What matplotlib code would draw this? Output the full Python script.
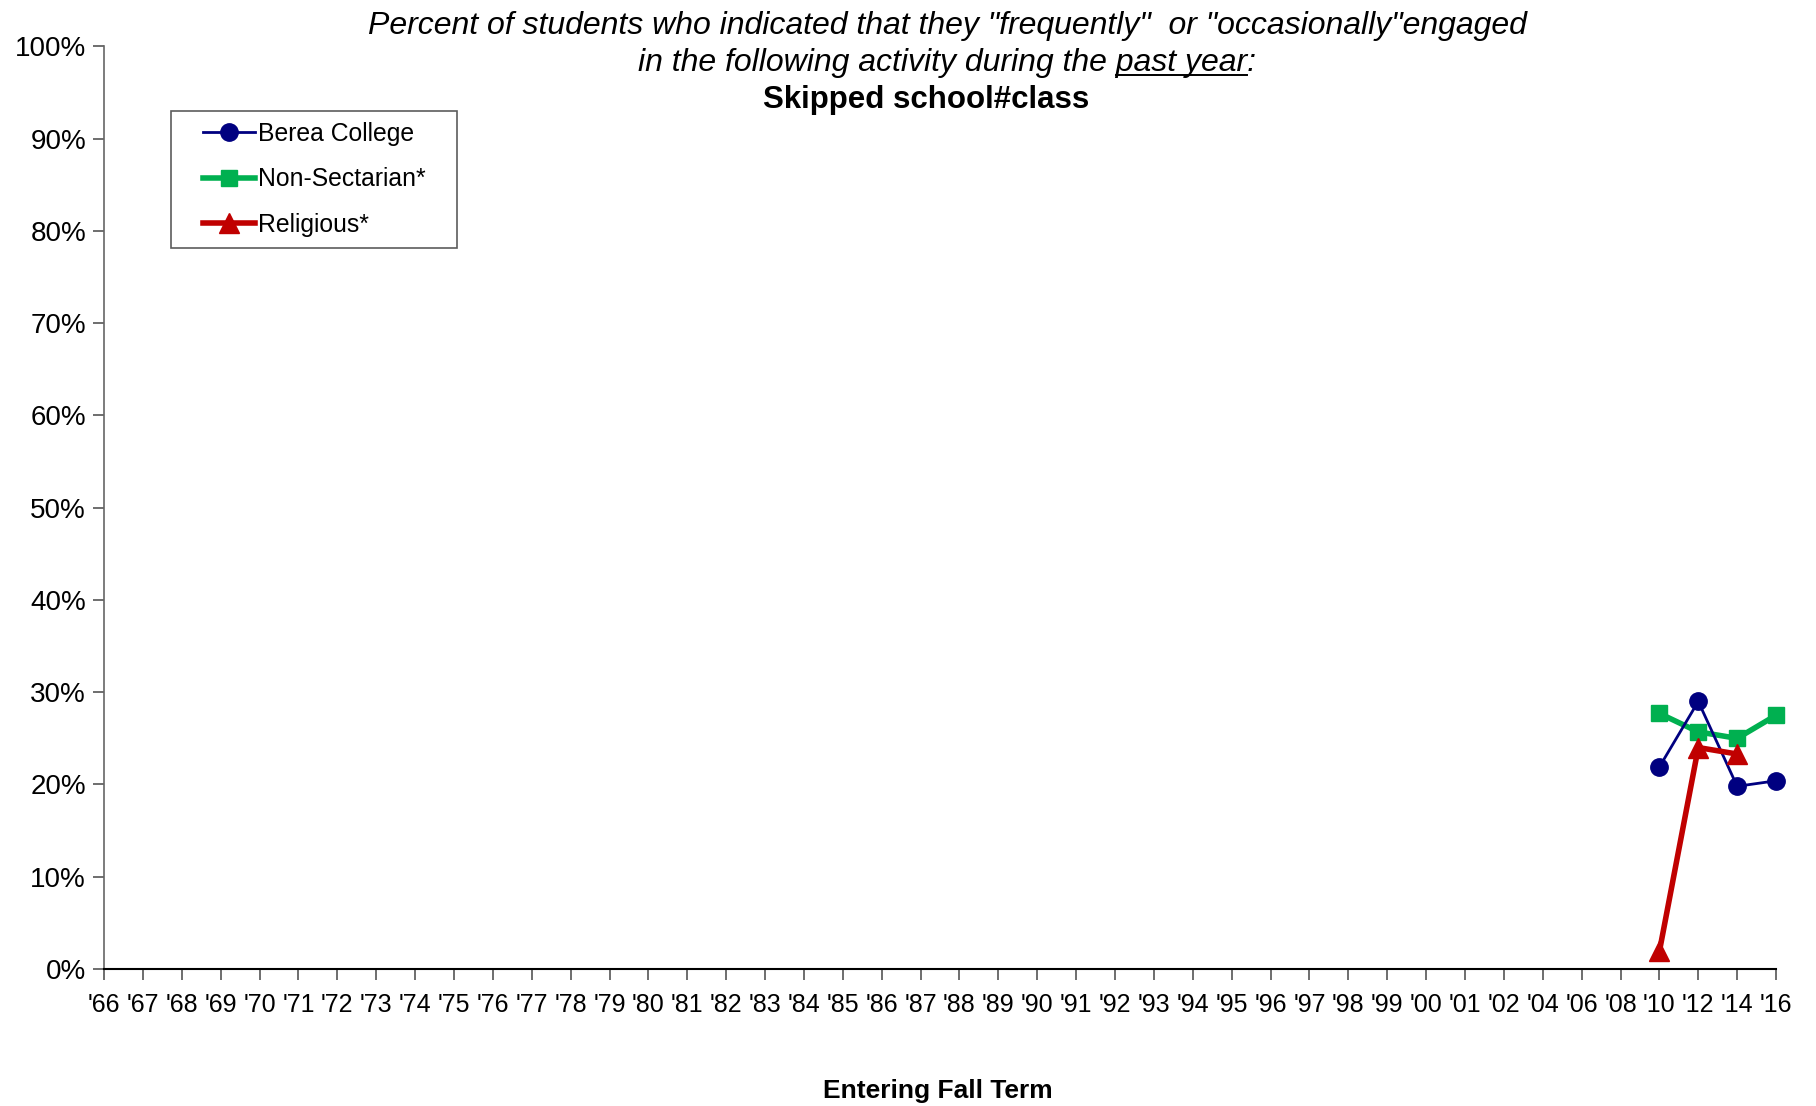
import matplotlib
matplotlib.use('Agg')
import matplotlib.pyplot as plt
from matplotlib.lines import Line2D
from matplotlib.legend_handler import HandlerLine2D
import numpy as np

plt.rcParams['font.family'] = ['Liberation Sans', 'DejaVu Sans']

years = ["'66", "'67", "'68", "'69", "'70", "'71", "'72", "'73", "'74", "'75",
         "'76", "'77", "'78", "'79", "'80", "'81", "'82", "'83", "'84", "'85",
         "'86", "'87", "'88", "'89", "'90", "'91", "'92", "'93", "'94", "'95",
         "'96", "'97", "'98", "'99", "'00", "'01", "'02", "'04", "'06", "'08",
         "'10", "'12", "'14", "'16"]

# survey results (fraction of students), only recent years asked
berea_years = ["'10", "'12", "'14", "'16"]
berea = [0.219, 0.290, 0.198, 0.204]
nonsect_years = ["'10", "'12", "'14", "'16"]
nonsect = [0.277, 0.257, 0.250, 0.275]
relig_years = ["'10", "'12", "'14"]
relig = [0.019, 0.240, 0.233]

fig = plt.figure(figsize=(18.16, 11.06), dpi=100)
ax = fig.add_axes([0.0573, 0.1239, 0.9207, 0.8341])

xpos = {y: i for i, y in enumerate(years)}

ax.plot([xpos[y] for y in berea_years], berea, color='#000080', lw=2,
        marker='o', ms=12.5, label='Berea College', zorder=4, clip_on=False)
ax.plot([xpos[y] for y in nonsect_years], nonsect, color='#00B050', lw=4,
        marker='s', ms=12, label='Non-Sectarian*', zorder=3, clip_on=False)
ax.plot([xpos[y] for y in relig_years], relig, color='#C00000', lw=4,
        marker='^', ms=14, label='Religious*', zorder=5, clip_on=False)

ax.set_xlim(0, len(years) - 1)
ax.set_ylim(0, 1)
ax.set_xticks(range(len(years)))
ax.set_xticklabels(years, fontsize=18)
ax.set_yticks(np.arange(0, 1.01, 0.1))
ax.set_yticklabels(['%d%%' % round(v * 100) for v in np.arange(0, 1.01, 0.1)],
                   fontsize=20)
ax.tick_params(axis='both', direction='out', length=8, width=1.2,
               color='#555555')
ax.tick_params(axis='x', pad=9)
ax.tick_params(axis='y', pad=5)
for s in ['top', 'right']:
    ax.spines[s].set_visible(False)
ax.spines['left'].set_color('#666666')
ax.spines['left'].set_linewidth(1.2)
ax.spines['bottom'].set_color('#000000')
ax.spines['bottom'].set_linewidth(1.5)

# legend handles are pushed in from the frame a bit
hmap = {h: HandlerLine2D(xpad=0.83) for h in ax.get_lines()}
leg = ax.legend(loc='upper left',
                bbox_to_anchor=(171 / 1816, 1 - 249 / 1106, 286 / 1816, 138 / 1106),
                bbox_transform=fig.transFigure, mode='expand', fontsize=17.8,
                frameon=True, fancybox=False, edgecolor='#333333',
                borderpad=0.45, labelspacing=0.86, handlelength=2.93,
                handletextpad=0.15, borderaxespad=0, handler_map=hmap)
leg.get_frame().set_linewidth(1.2)

# title, three lines
cx = 947 / 1816
fig.text(cx, 1 - 26 / 1106, 'Percent of students who indicated that they "frequently"  or "occasionally"engaged',
         ha='center', va='center', fontsize=23, style='italic')
line2 = 'in the following activity during the past year:'
t2 = fig.text(cx, 1 - 63 / 1106, line2, ha='center', va='center',
              fontsize=23, style='italic')
fig.text(926 / 1816, 1 - 100 / 1106, 'Skipped school#class', ha='center',
         va='center', fontsize=22.5, fontweight='bold')
fig.text(938 / 1816, 1 - 1091 / 1106, 'Entering Fall Term', ha='center',
         va='center', fontsize=19, fontweight='bold')

# underline "past year"
fig.canvas.draw()
r = fig.canvas.get_renderer()
bb = t2.get_window_extent(r)
pre = fig.text(0, 0, 'in the following activity during the ', fontsize=23, style='italic')
word = fig.text(0, 0, 'past year', fontsize=23, style='italic')
w_pre = pre.get_window_extent(r).width
w_word = word.get_window_extent(r).width
pre.remove()
word.remove()
x0 = bb.x0 + w_pre
uy = bb.y0 + 3
fig.add_artist(Line2D([x0 / 1816, (x0 + w_word) / 1816], [uy / 1106, uy / 1106],
                      transform=fig.transFigure, color='black', lw=1.4))

fig.savefig('out.png', dpi=100)
